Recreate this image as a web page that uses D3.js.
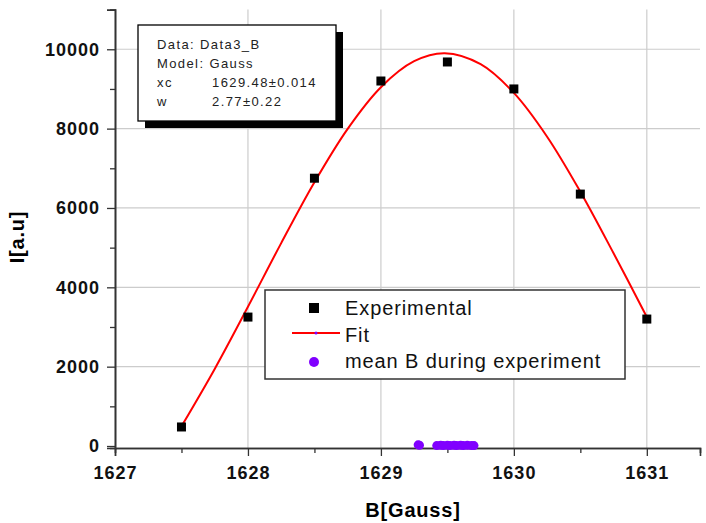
<!DOCTYPE html>
<html><head><meta charset="utf-8">
<script src="https://cdn.jsdelivr.net/npm/d3@7"></script>
<style>body{margin:0;background:#fff}svg{display:block}text{font-family:Arial,"Liberation Sans",sans-serif}</style>
</head><body><svg id="c" width="706" height="523"></svg>
<script>
// Experimental data
const expB = [1627.5, 1628, 1628.5, 1629, 1629.5, 1630, 1630.5, 1631];
const expI = [480, 3250, 6750, 9200, 9680, 9000, 6350, 3200];
// Gauss fit curve
const fitB = [1627.5, 1627.75, 1628, 1628.25, 1628.5, 1628.75, 1629, 1629.25, 1629.48, 1629.75, 1630, 1630.25, 1630.5, 1630.75, 1631];
const fitI = [497, 1944, 3510, 5114, 6648, 7995, 9044, 9699, 9900, 9624, 8900, 7796, 6410, 4858, 3254];
// mean B during experiment
const meanB = [1629.28, 1629.29, 1629.42, 1629.45, 1629.47, 1629.5, 1629.52, 1629.55, 1629.57, 1629.6, 1629.62, 1629.65, 1629.68, 1629.7];
const meanI = [30, 20, 10, 20, 10, 20, 10, 20, 10, 20, 10, 20, 10, 10];
const xTicks = [1627, 1628, 1629, 1630, 1631];
const xMinor = [1627.5, 1628.5, 1629.5, 1630.5];
const yTicks = [0, 2000, 4000, 6000, 8000, 10000];
const yMinor = [1000, 3000, 5000, 7000, 9000];
const infoLabels = ["Data: Data3_B", "Model: Gauss", "xc", "w"];
const infoValues = ["", "", "1629.48±0.014", "2.77±0.22"];
const legendLabels = ["Experimental", "Fit", "mean B during experiment"];

const svg = d3.select("#c");
const x = d3.scaleLinear().domain([1627, 1631.4]).range([115, 700]);
const y = d3.scaleLinear().domain([-50, 11000]).range([448, 9.6]);
const axisCol = "#333", gridCol = "#cccccc", red = "#ff0000", purple = "#8000ff";

// grid
svg.append("g").selectAll("line").data(xTicks.slice(1)).join("line")
  .attr("x1", d => x(d)).attr("x2", d => x(d)).attr("y1", y(11000)).attr("y2", y(-50))
  .attr("stroke", gridCol).attr("stroke-width", 1.2);
svg.append("g").selectAll("line").data(yTicks.slice(1)).join("line")
  .attr("x1", x(1627)).attr("x2", x(1631.4)).attr("y1", d => y(d)).attr("y2", d => y(d))
  .attr("stroke", gridCol).attr("stroke-width", 1.2);

// axes
svg.append("g").attr("transform", `translate(0,${y(-50)})`)
  .call(d3.axisBottom(x).tickValues(xTicks).tickFormat(d3.format("d")).tickSize(8).tickPadding(10));
svg.append("g").attr("transform", `translate(0,${y(-50)})`)
  .call(d3.axisBottom(x).tickValues(xMinor).tickFormat("").tickSize(5));
svg.append("g").attr("transform", `translate(${x(1627)},0)`)
  .call(d3.axisLeft(y).tickValues(yTicks).tickFormat(d3.format("d")).tickSize(8).tickPadding(7));
svg.append("g").attr("transform", `translate(${x(1627)},0)`)
  .call(d3.axisLeft(y).tickValues(yMinor).tickFormat("").tickSize(5));
svg.selectAll(".domain").attr("stroke", axisCol).attr("stroke-width", 1.6);
svg.selectAll(".tick line").attr("stroke", axisCol).attr("stroke-width", 1.3);
svg.selectAll(".tick text").attr("font-size", 18).attr("font-weight", "bold")
  .attr("fill", "#111").style("letter-spacing", "1px").attr("font-family", "Arial, 'Liberation Sans', sans-serif");

// axis titles
svg.append("text").attr("x", 413).attr("y", 517).attr("text-anchor", "middle")
  .attr("font-size", 20).attr("font-weight", "bold").style("letter-spacing", "0.8px").text("B[Gauss]");
svg.append("text").attr("transform", "translate(24,237) rotate(-90)").attr("text-anchor", "middle")
  .attr("font-size", 20).attr("font-weight", "bold").style("letter-spacing", "0.8px").text("I[a.u]");

// fit line
svg.append("path").datum(fitB.map((b, i) => [b, fitI[i]]))
  .attr("d", d3.line().x(d => x(d[0])).y(d => y(d[1])).curve(d3.curveCatmullRom))
  .attr("fill", "none").attr("stroke", red).attr("stroke-width", 2);

// experimental squares
svg.append("g").selectAll("rect").data(expB.map((b, i) => [b, expI[i]])).join("rect")
  .attr("x", d => x(d[0]) - 4.5).attr("y", d => y(d[1]) - 4.5).attr("width", 9).attr("height", 9).attr("fill", "#000");

// mean B dots
svg.append("g").selectAll("circle").data(meanB.map((b, i) => [b, meanI[i]])).join("circle")
  .attr("cx", d => x(d[0])).attr("cy", d => y(d[1])).attr("r", 4.5).attr("fill", purple);

// info box
const ib = svg.append("g");
ib.append("rect").attr("x", 145).attr("y", 32).attr("width", 198).attr("height", 96).attr("fill", "#000");
ib.append("rect").attr("x", 138).attr("y", 25).attr("width", 198).attr("height", 96).attr("fill", "#fff")
  .attr("stroke", "#000").attr("stroke-width", 1.3);
infoLabels.forEach((t, i) => {
  ib.append("text").attr("x", 157).attr("y", 49 + i * 19).attr("font-size", 13).style("letter-spacing", "1.4px").attr("fill", "#222").text(t);
  if (infoValues[i]) ib.append("text").attr("x", 212).attr("y", 49 + i * 19).attr("font-size", 13).style("letter-spacing", "1.4px").attr("fill", "#222").text(infoValues[i]);
});

// legend
const lg = svg.append("g");
lg.append("rect").attr("x", 265).attr("y", 290).attr("width", 360).attr("height", 89)
  .attr("fill", "#fff").attr("stroke", "#333").attr("stroke-width", 1.5);
lg.append("rect").attr("x", 309).attr("y", 303).attr("width", 10).attr("height", 10).attr("fill", "#000");
lg.append("line").attr("x1", 292).attr("x2", 340).attr("y1", 333).attr("y2", 333).attr("stroke", red).attr("stroke-width", 2);
lg.append("circle").attr("cx", 316).attr("cy", 333).attr("r", 1.5).attr("fill", purple);
lg.append("circle").attr("cx", 314).attr("cy", 362).attr("r", 5).attr("fill", purple);
legendLabels.forEach((t, i) => {
  lg.append("text").attr("x", 345).attr("y", [315, 342, 368][i]).attr("font-size", 20)
    .style("letter-spacing", "0.9px").attr("fill", "#111").text(t);
});
</script></body></html>
